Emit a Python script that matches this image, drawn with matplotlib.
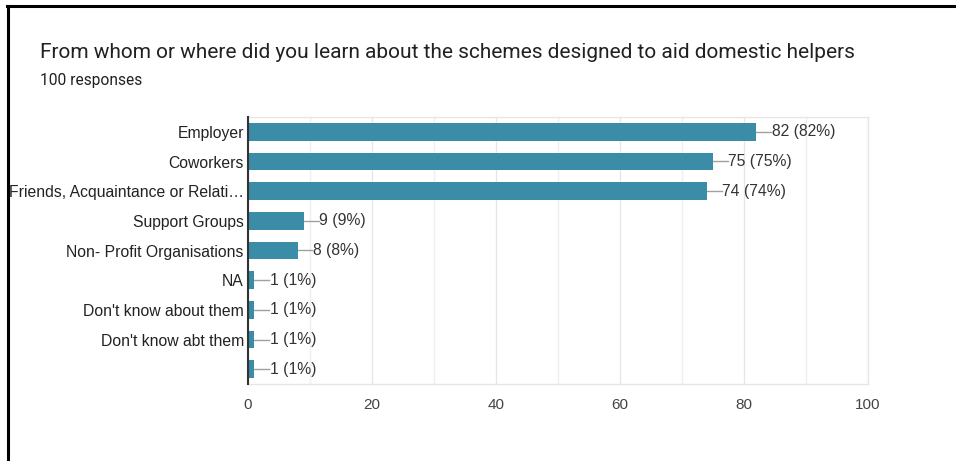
import matplotlib
matplotlib.use("Agg")
import matplotlib.pyplot as plt
from matplotlib.lines import Line2D

categories = [
    "Employer",
    "Coworkers",
    "Friends, Acquaintance or Relati\u2026",
    "Support Groups",
    "Non- Profit Organisations",
    "NA",
    "Don't know about them",
    "Don't know abt them",
    "",
]
counts = [82, 75, 74, 9, 8, 1, 1, 1, 1]
total = 100
xticks = [0, 20, 40, 60, 80, 100]

title = "From whom or where did you learn about the schemes designed to aid domestic helpers"
subtitle = f"{total} responses"

bar_color = "#3a8ca7"
label_font = ["Liberation Sans", "DejaVu Sans"]
title_font = ["Roboto", "DejaVu Sans"]

fig = plt.figure(figsize=(9.56, 4.61), dpi=100)
fig.patch.set_facecolor("white")

ax = fig.add_axes([248 / 956, 1 - 384 / 461, 620 / 956, 267 / 461])

y = list(range(len(categories)))
ax.barh(y, counts, height=0.6, color=bar_color, zorder=3)
ax.set_ylim(len(categories) - 0.5, -0.5)
ax.set_xlim(0, 100)

# grid: major every 20, minor every 10
ax.set_xticks(xticks)
ax.set_xticks(range(10, 100, 20), minor=True)
ax.grid(axis="x", which="major", color="#e6e6e6", linewidth=1, zorder=0)
ax.grid(axis="x", which="minor", color="#efefef", linewidth=1, zorder=0)
ax.tick_params(axis="x", which="both", length=0, pad=10, labelsize=11,
               labelcolor="#444444")
ax.tick_params(axis="y", length=0, pad=3, labelsize=11.3, labelcolor="#222222")
ax.set_yticks(y)
ax.set_yticklabels(categories)
for lbl in ax.get_xticklabels() + ax.get_yticklabels():
    lbl.set_fontfamily(label_font)

for side in ("top", "right", "bottom"):
    ax.spines[side].set_color("#e6e6e6")
    ax.spines[side].set_linewidth(1)
ax.spines["left"].set_color("#333333")
ax.spines["left"].set_linewidth(1.5)
ax.spines["left"].set_zorder(4)

# value labels with leader lines
for yi, c in zip(y, counts):
    pct = round(100 * c / total)
    ax.plot([c, c + 2.4], [yi, yi], color="#a0a0a0", linewidth=1, zorder=2)
    ax.text(c + 2.5, yi, f"{c} ({pct}%)", va="center", ha="left",
            fontsize=11.3, color="#333333", fontfamily=label_font)

fig.text(40 / 956, 1 - 53 / 461, title, fontsize=15, color="#212121",
         va="center", ha="left", fontfamily=title_font)
fig.text(40 / 956, 1 - 81 / 461, subtitle, fontsize=11.2, color="#212121",
         va="center", ha="left", fontfamily=title_font)

# outer frame: top and left edges
fig.add_artist(Line2D([7 / 956, 1], [1 - 6.5 / 461, 1 - 6.5 / 461],
                      transform=fig.transFigure, color="black", linewidth=2.2))
fig.add_artist(Line2D([8 / 956, 8 / 956], [0, 1 - 6.5 / 461],
                      transform=fig.transFigure, color="black", linewidth=2.2))

fig.savefig("out.png", dpi=100, facecolor="white")
